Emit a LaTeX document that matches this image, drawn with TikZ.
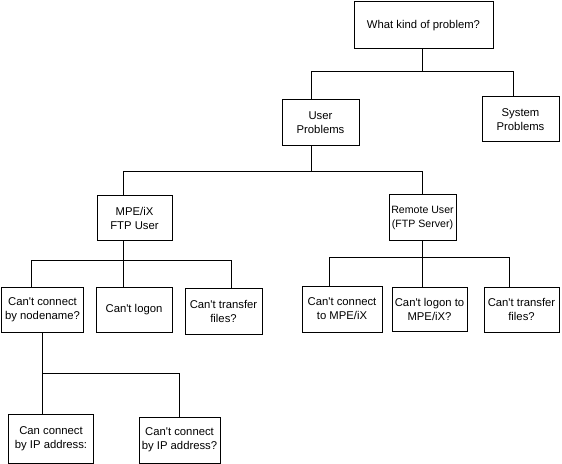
\documentclass[tikz,border=0pt]{standalone}
\usepackage{fontspec}
\setmainfont{Liberation Sans}
\newcommand\apo{\textquotesingle}
\begin{document}
\begin{tikzpicture}[x=1bp,y=-1bp,
  box/.style={draw,line width=1bp,inner sep=0pt,align=center,font=\fontsize{11.3bp}{14bp}\selectfont},
  conn/.style={line width=1bp}]
\useasboundingbox (0,0) rectangle (562,464);
% boxes
\node[box,minimum width=139bp,minimum height=47bp] (top) at (423.5,25.5) {What kind of problem?};
\node[box,minimum width=77bp,minimum height=46bp] (user) at (320.5,123) {User\\Problems};
\node[box,minimum width=77bp,minimum height=45bp] (system) at (520.5,119.5) {System\\Problems};
\node[box,minimum width=75bp,minimum height=45bp] (mpe) at (134.5,218.5) {MPE/iX\\FTP User};
\node[box,minimum width=67bp,minimum height=46bp,font=\fontsize{10.6bp}{14bp}\selectfont] (remote) at (422.5,218) {Remote User\\(FTP Server)};
\node[box,minimum width=81bp,minimum height=45bp] (nodename) at (42.5,309.5) {Can\apo t connect\\by nodename?};
\node[box,minimum width=76bp,minimum height=45bp] (logon) at (134,309.5) {Can\apo t logon};
\node[box,minimum width=77bp,minimum height=46bp] (xfer1) at (223.5,311) {Can\apo t transfer\\files?};
\node[box,minimum width=80bp,minimum height=46bp] (conmpe) at (342,309) {Can\apo t connect\\to MPE/iX};
\node[box,minimum width=75bp,minimum height=44bp] (logmpe) at (429.5,309) {Can\apo t logon to\\MPE/iX?};
\node[box,minimum width=75bp,minimum height=45bp] (xfer2) at (521.5,309.5) {Can\apo t transfer\\files?};
\node[box,minimum width=84bp,minimum height=49bp] (canip) at (51,438.5) {Can connect\\by IP address:};
\node[box,minimum width=81bp,minimum height=46bp] (cantip) at (179.5,440) {Can\apo t connect\\by IP address?};
% bus coordinates
\coordinate (b1l) at (311,72);  \coordinate (b1r) at (513,72);
\coordinate (b2l) at (123,172); \coordinate (b2r) at (422,172);
\coordinate (b3l) at (31,261);  \coordinate (b3m) at (123,261); \coordinate (b3r) at (231,261);
\coordinate (b4l) at (329,258); \coordinate (b4m) at (422,258); \coordinate (b4r) at (509,258);
\coordinate (b5l) at (42,373);  \coordinate (b5r) at (179,373);
% connectors
\draw[conn] (top.south -| 422,0) -- (b1l -| 422,0);
\draw[conn] (user.north -| b1l) -- (b1l) -- (b1r) -- (system.north -| b1r);
\draw[conn] (user.south -| 311,0) -- (b2l -| 311,0);
\draw[conn] (mpe.north -| b2l) -- (b2l) -- (b2r) -- (remote.north -| b2r);
\draw[conn] (mpe.south -| b3m) -- (b3m);
\draw[conn] (nodename.north -| b3l) -- (b3l) -- (b3r) -- (xfer1.north -| b3r);
\draw[conn] (b3m) -- (logon.north -| b3m);
\draw[conn] (remote.south -| b4m) -- (b4m);
\draw[conn] (conmpe.north -| b4l) -- (b4l) -- (b4r) -- (xfer2.north -| b4r);
\draw[conn] (b4m) -- (logmpe.north -| b4m);
\draw[conn] (nodename.south -| b5l) -- (canip.north -| b5l);
\draw[conn] (b5l) -- (b5r) -- (cantip.north -| b5r);
\end{tikzpicture}
\end{document}
